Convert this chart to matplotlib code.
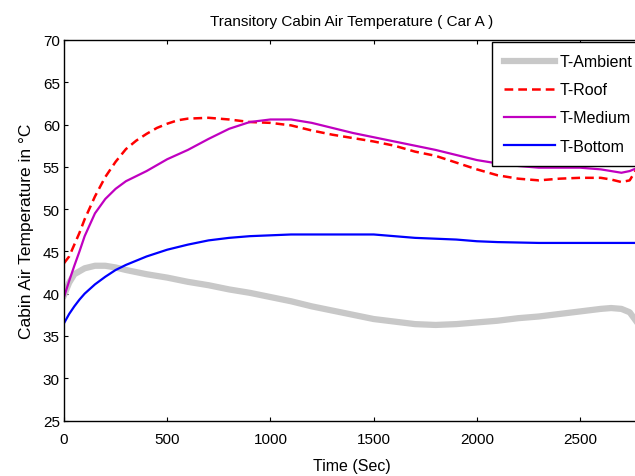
import numpy as np
import matplotlib
matplotlib.use("Agg")
import matplotlib.pyplot as plt

plt.rcParams['font.family'] = ['Liberation Sans', 'DejaVu Sans']

# Transitory cabin air temperature, Car A
t_amb = [0, 25, 50, 100, 150, 200, 250, 300, 400, 500, 600, 700, 800, 900,
         1000, 1100, 1200, 1300, 1400, 1500, 1600, 1700, 1800, 1900, 2000,
         2100, 2200, 2300, 2400, 2500, 2600, 2650, 2700, 2740, 2770]
amb = [39.8, 41.3, 42.3, 43.0, 43.3, 43.3, 43.1, 42.8, 42.3, 41.9, 41.4, 41.0,
       40.5, 40.1, 39.6, 39.1, 38.5, 38.0, 37.5, 37.0, 36.7, 36.4, 36.3, 36.4,
       36.6, 36.8, 37.1, 37.3, 37.6, 37.9, 38.2, 38.3, 38.2, 37.8, 36.8]

t_roof = [0, 25, 50, 75, 100, 150, 200, 250, 300, 350, 400, 450, 500, 550,
          600, 700, 800, 900, 1000, 1100, 1200, 1300, 1400, 1500, 1600, 1700,
          1800, 1900, 2000, 2100, 2200, 2300, 2400, 2500, 2600, 2650, 2700,
          2740, 2770]
roof = [43.6, 44.4, 45.8, 47.2, 48.8, 51.5, 53.8, 55.6, 57.1, 58.1, 58.9, 59.6,
        60.1, 60.5, 60.7, 60.8, 60.6, 60.3, 60.2, 59.9, 59.3, 58.8, 58.4, 58.0,
        57.5, 56.8, 56.3, 55.5, 54.7, 54.0, 53.6, 53.4, 53.6, 53.7, 53.7, 53.5,
        53.2, 53.4, 54.6]

t_med = [0, 25, 50, 75, 100, 150, 200, 250, 300, 350, 400, 500, 600, 700, 800,
         900, 1000, 1100, 1200, 1300, 1400, 1500, 1600, 1700, 1800, 1900, 2000,
         2100, 2200, 2300, 2400, 2500, 2600, 2700, 2740, 2770]
med = [39.6, 41.5, 43.3, 45.0, 46.8, 49.5, 51.2, 52.4, 53.3, 53.9, 54.5, 55.9,
       57.0, 58.3, 59.5, 60.3, 60.6, 60.6, 60.2, 59.6, 59.0, 58.5, 58.0, 57.5,
       57.0, 56.4, 55.8, 55.4, 55.1, 54.9, 54.9, 54.9, 54.7, 54.3, 54.5, 54.8]

t_bot = [0, 25, 50, 75, 100, 150, 200, 250, 300, 400, 500, 600, 700, 800, 900,
         1000, 1100, 1200, 1300, 1400, 1500, 1550, 1600, 1700, 1800, 1900, 2000,
         2100, 2300, 2500, 2770]
bot = [36.5, 37.6, 38.5, 39.3, 40.0, 41.1, 42.0, 42.8, 43.4, 44.4, 45.2, 45.8,
       46.3, 46.6, 46.8, 46.9, 47.0, 47.0, 47.0, 47.0, 47.0, 46.9, 46.8, 46.6,
       46.5, 46.4, 46.2, 46.1, 46.0, 46.0, 46.0]

fig = plt.figure(figsize=(6.35, 4.77), dpi=100)
# axes run slightly past the right edge, like the cropped original
ax = fig.add_axes([64 / 635, 55.5 / 477, 576 / 635, 380.5 / 477])

ax.plot(t_amb, amb, color='#c8c8c8', lw=4.5, label='T-Ambient')
ax.plot(t_roof, roof, color='#ff0000', lw=1.8, ls=(0, (3.5, 2)), label='T-Roof')
ax.plot(t_med, med, color='#c000c0', lw=1.6, label='T-Medium')
ax.plot(t_bot, bot, color='#0000ff', lw=1.6, label='T-Bottom')

ax.set_xlim(0, 2790)
ax.set_ylim(25, 70)
ax.set_xticks(np.arange(0, 2501, 500))
ax.set_yticks(np.arange(25, 71, 5))
ax.tick_params(direction='in', top=True, right=True, length=3, width=0.8,
               labelsize=11)
ax.tick_params(axis='x', pad=8)
ax.tick_params(axis='y', pad=3)
for s in ax.spines.values():
    s.set_linewidth(1.0)

ax.set_title('Transitory Cabin Air Temperature ( Car A )', fontsize=11, pad=11)
ax.set_xlabel('Time (Sec)', fontsize=11.5, labelpad=9)
ax.set_ylabel('Cabin Air Temperature in °C', fontsize=12.5, labelpad=6)

leg = ax.legend(loc='upper left', bbox_to_anchor=(0.743, 0.994), fontsize=11.5,
                fancybox=False, framealpha=1, edgecolor='black',
                handlelength=3.2, handletextpad=0.3, labelspacing=0.82,
                borderpad=0.75, borderaxespad=0)
leg.get_frame().set_linewidth(1.0)

fig.savefig('out.png', dpi=100)
